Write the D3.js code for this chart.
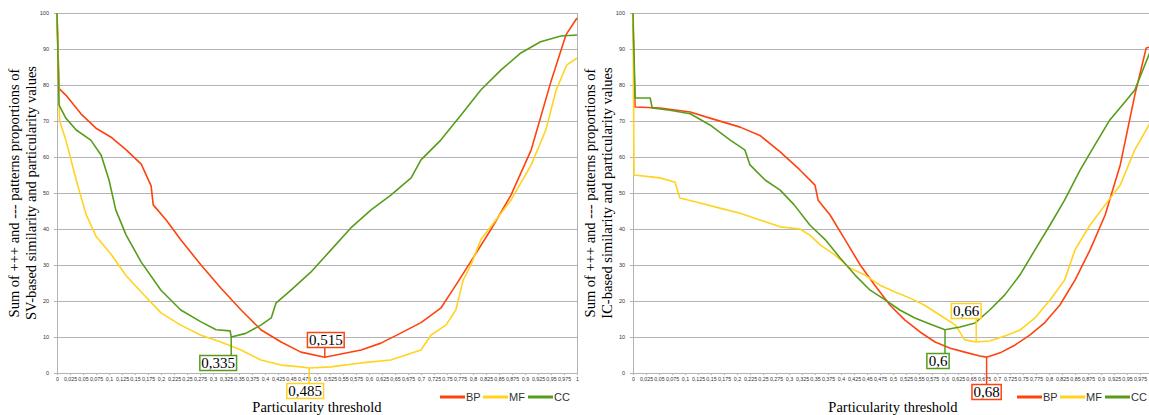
<!DOCTYPE html>
<html><head><meta charset="utf-8">
<script src="https://cdn.jsdelivr.net/npm/d3@7"></script>
<style>body{margin:0;background:#fff}svg{display:block}</style></head>
<body>
<svg id="c" width="1149" height="415"></svg>
<script>
const xTickLabels = ["0","0,025","0,05","0,075","0,1","0,125","0,15","0,175","0,2","0,225","0,25","0,275","0,3","0,325","0,35","0,375","0,4","0,425","0,45","0,475","0,5","0,525","0,55","0,575","0,6","0,625","0,65","0,675","0,7","0,725","0,75","0,775","0,8","0,825","0,85","0,875","0,9","0,925","0,95","0,975","1"];
const yTickLabels = [0,10,20,30,40,50,60,70,80,90,100];
const seriesNames = ["BP","MF","CC"];
const seriesColors = ["#ff420e","#ffd320","#579d1c"];

const leftBP = [[0,100],[0.004,79],[0.017,77.2],[0.046,72],[0.075,68],[0.104,65.5],[0.133,62],[0.162,58],[0.181,52],[0.185,46.7],[0.21,42.5],[0.238,37],[0.277,30],[0.315,23.6],[0.354,17.5],[0.392,12],[0.431,8.6],[0.469,5.8],[0.515,4.4],[0.546,5.3],[0.585,6.4],[0.623,8.3],[0.66,11],[0.7,14],[0.738,18],[0.767,24.4],[0.796,31],[0.835,40],[0.873,49.4],[0.912,62],[0.95,81],[0.979,94],[1,98.6]];
const leftMF = [[0,100],[0.005,70],[0.017,64.7],[0.037,53.6],[0.056,44],[0.075,38],[0.104,33],[0.133,27],[0.162,22.5],[0.2,16.7],[0.238,13.3],[0.277,10.5],[0.315,8.6],[0.354,6.4],[0.392,3.6],[0.431,2.2],[0.469,1.7],[0.485,1.4],[0.527,1.7],[0.585,2.8],[0.642,3.6],[0.7,6.4],[0.719,10.5],[0.748,13.3],[0.767,17.5],[0.781,25.8],[0.796,30],[0.815,37],[0.844,42.5],[0.873,48],[0.912,57.8],[0.94,67.5],[0.96,78.6],[0.98,85.5],[1,87.5]];
const leftCC = [[0,100],[0.004,74.4],[0.017,70.8],[0.037,67.5],[0.065,64.7],[0.085,60.5],[0.1,53.6],[0.113,45.3],[0.133,38.3],[0.162,30.8],[0.2,23],[0.238,17.5],[0.277,14.2],[0.306,12],[0.333,11.7],[0.335,10],[0.363,11],[0.392,13.3],[0.412,15.3],[0.421,19.4],[0.45,23],[0.488,28],[0.527,34.2],[0.565,40.3],[0.604,45.3],[0.642,49.4],[0.681,54.2],[0.7,59.2],[0.738,64.7],[0.777,71.7],[0.815,78.6],[0.854,84.2],[0.892,88.9],[0.93,92],[0.969,93.6],[1,93.9]];

const rightBP = [[0,97],[0.004,73.9],[0.052,73.6],[0.11,72.5],[0.148,70.8],[0.206,68.3],[0.244,66],[0.283,61.4],[0.321,56.4],[0.35,52.2],[0.356,48],[0.379,43.9],[0.408,37],[0.437,30],[0.465,24.4],[0.494,18.9],[0.523,14.7],[0.552,11.4],[0.581,8.6],[0.61,6.9],[0.638,5.8],[0.667,4.7],[0.68,4.4],[0.706,5.6],[0.735,7.8],[0.763,10.5],[0.792,14],[0.821,18.9],[0.85,25.8],[0.879,34.2],[0.908,43.9],[0.937,57.8],[0.965,77.2],[0.987,90.3],[0.995,90.6]];
const rightMF = [[0,100],[0.002,55],[0.052,54.2],[0.081,53],[0.09,48.6],[0.129,47.2],[0.167,45.8],[0.206,44.4],[0.244,42.5],[0.283,40.6],[0.321,40],[0.34,38.3],[0.36,35.6],[0.388,32.8],[0.417,29.2],[0.446,27.2],[0.475,24.4],[0.504,22.5],[0.533,20.8],[0.56,18.9],[0.59,16.1],[0.62,13.3],[0.638,9.2],[0.66,8.6],[0.686,8.9],[0.715,10.3],[0.744,11.9],[0.773,15.3],[0.802,20.3],[0.83,25.8],[0.85,34.2],[0.879,41.1],[0.908,46.7],[0.937,52.2],[0.965,62],[0.995,69.6]];
const rightCC = [[0,100],[0.004,76.4],[0.033,76.4],[0.037,73.6],[0.071,73],[0.11,72],[0.148,68.9],[0.187,64.7],[0.215,62],[0.225,57.8],[0.254,53.6],[0.283,50.8],[0.31,46.7],[0.34,41.1],[0.37,37],[0.398,32],[0.427,27.2],[0.456,23],[0.485,20.3],[0.513,17.5],[0.542,15.3],[0.571,13.6],[0.6,12],[0.629,12.8],[0.658,13.9],[0.686,17.5],[0.715,21.7],[0.744,27.2],[0.773,34.2],[0.802,41.1],[0.83,48],[0.86,56.4],[0.888,63.3],[0.917,70.3],[0.946,75.3],[0.965,78.6],[0.995,89.4]];

const leftNotes = [
  {s:2, t:0.335, v:10, text:"0,335", dx:-13, boxY:363},
  {s:0, t:0.515, v:4.4, text:"0,515", dx:1, boxY:340},
  {s:1, t:0.485, v:1.4, text:"0,485", dx:-4, boxY:391}
];
const rightNotes = [
  {s:1, t:0.66, v:8.6, text:"0,66", dx:-10, boxY:311},
  {s:2, t:0.6, v:12, text:"0,6", dx:-7, boxY:361},
  {s:0, t:0.68, v:4.4, text:"0,68", dx:0, boxY:392}
];

const svg = d3.select("#c");
svg.append("rect").attr("width",1149).attr("height",415).attr("fill","#fff");

function drawChart(cfg){
  const x = d3.scaleLinear().domain([0,1]).range([cfg.x0, cfg.x0+520]);
  const y = d3.scaleLinear().domain([0,100]).range([373, 13]);
  const g = svg.append("g");
  g.selectAll("line.grid").data(yTickLabels).join("line")
    .attr("x1", x(0)).attr("x2", x(1))
    .attr("y1", d=>y(d)).attr("y2", d=>y(d))
    .attr("stroke","#b3b3b3").attr("stroke-width",1).attr("shape-rendering","crispEdges");
  [0,1].forEach(v=>{
    g.append("line").attr("x1",x(v)).attr("x2",x(v)).attr("y1",y(0)).attr("y2",y(100))
      .attr("stroke","#b3b3b3").attr("stroke-width",1).attr("shape-rendering","crispEdges");
  });
  g.selectAll("text.yt").data(yTickLabels).join("text")
    .attr("x", x(0)-8).attr("y", d=>y(d)+2)
    .attr("text-anchor","end").attr("font-family","Liberation Sans, Arial, sans-serif")
    .attr("font-size",5.5).attr("fill","#333").text(d=>d);
  g.selectAll("line.yt").data(yTickLabels).join("line")
    .attr("x1", x(0)-3).attr("x2", x(0)).attr("y1", d=>y(d)).attr("y2", d=>y(d))
    .attr("stroke","#b3b3b3").attr("shape-rendering","crispEdges");
  const labels = xTickLabels.slice(0, cfg.nLabels);
  const xAxis = d3.axisBottom(x).tickValues(labels.map(s=>+s.replace(",","."))).tickFormat((d,i)=>labels[i]).tickSize(2).tickPadding(2);
  const ax = g.append("g").attr("transform",`translate(0,${y(0)})`).call(xAxis);
  ax.select(".domain").attr("stroke","#b3b3b3");
  ax.selectAll(".tick line").attr("stroke","#b3b3b3");
  ax.selectAll(".tick text").attr("font-family","Liberation Sans Narrow, Liberation Sans, Arial, sans-serif").attr("font-size",5.3).attr("fill","#333");
  const line = d3.line().x(d=>x(d[0])).y(d=>y(d[1]));
  cfg.series.forEach((data,i)=>{
    g.append("path").datum(data).attr("d",line).attr("fill","none")
      .attr("stroke",seriesColors[i]).attr("stroke-width",1.6).attr("stroke-linejoin","round");
  });
  cfg.notes.forEach(n=>{
    const px = x(n.t), py = y(n.v);
    const col = seriesColors[n.s];
    const ag = g.append("g");
    const txt = ag.append("text").attr("font-family","Liberation Serif, Times New Roman, serif")
      .attr("font-size",15).attr("text-anchor","middle").attr("fill","#000")
      .attr("x", px+n.dx).attr("y", n.boxY+5).text(n.text);
    const bb = txt.node().getBBox();
    const bw = bb.width+3, bh = 15;
    const by0 = n.boxY - bh/2, by1 = n.boxY + bh/2;
    const ly = n.boxY > py ? by0 : by1;
    ag.insert("line","text").attr("x1",px).attr("x2",px).attr("y1",py).attr("y2",ly)
      .attr("stroke",col).attr("stroke-width",1.5);
    ag.insert("rect","text").attr("x",px+n.dx-bw/2).attr("y",by0).attr("width",bw).attr("height",bh)
      .attr("fill","#fff").attr("stroke",col).attr("stroke-width",1.5);
  });
  g.append("text").attr("x", x(0.5)).attr("y", 412).attr("text-anchor","middle")
    .attr("font-family","Liberation Serif, Times New Roman, serif").attr("font-size",14.5).text("Particularity threshold");
  cfg.yTitle.forEach((t,i)=>{
    g.append("text").attr("transform",`translate(${cfg.x0-38+i*17},193) rotate(-90)`)
      .attr("text-anchor","middle").attr("font-family","Liberation Serif, Times New Roman, serif")
      .attr("font-size",14.5).text(t);
  });
  const lg = g.append("g");
  const lx = [cfg.legendX, cfg.legendX+43, cfg.legendX+88];
  seriesNames.forEach((s,i)=>{
    lg.append("line").attr("x1",lx[i]).attr("x2",lx[i]+25).attr("y1",397).attr("y2",397)
      .attr("stroke",seriesColors[i]).attr("stroke-width",3);
    lg.append("text").attr("x",lx[i]+26).attr("y",401).attr("font-family","Liberation Sans, Arial, sans-serif")
      .attr("font-size",11).attr("fill","#333").text(s);
  });
}

drawChart({x0:57, series:[leftBP,leftMF,leftCC], notes:leftNotes, legendX:440, nLabels:41,
  yTitle:["Sum of +++ and --- patterns proportions of","SV-based similarity and particularity values"]});
drawChart({x0:633, series:[rightBP,rightMF,rightCC], notes:rightNotes, legendX:1017, nLabels:40,
  yTitle:["Sum of +++ and --- patterns proportions of","IC-based similarity and particularity values"]});
</script>
</body></html>
